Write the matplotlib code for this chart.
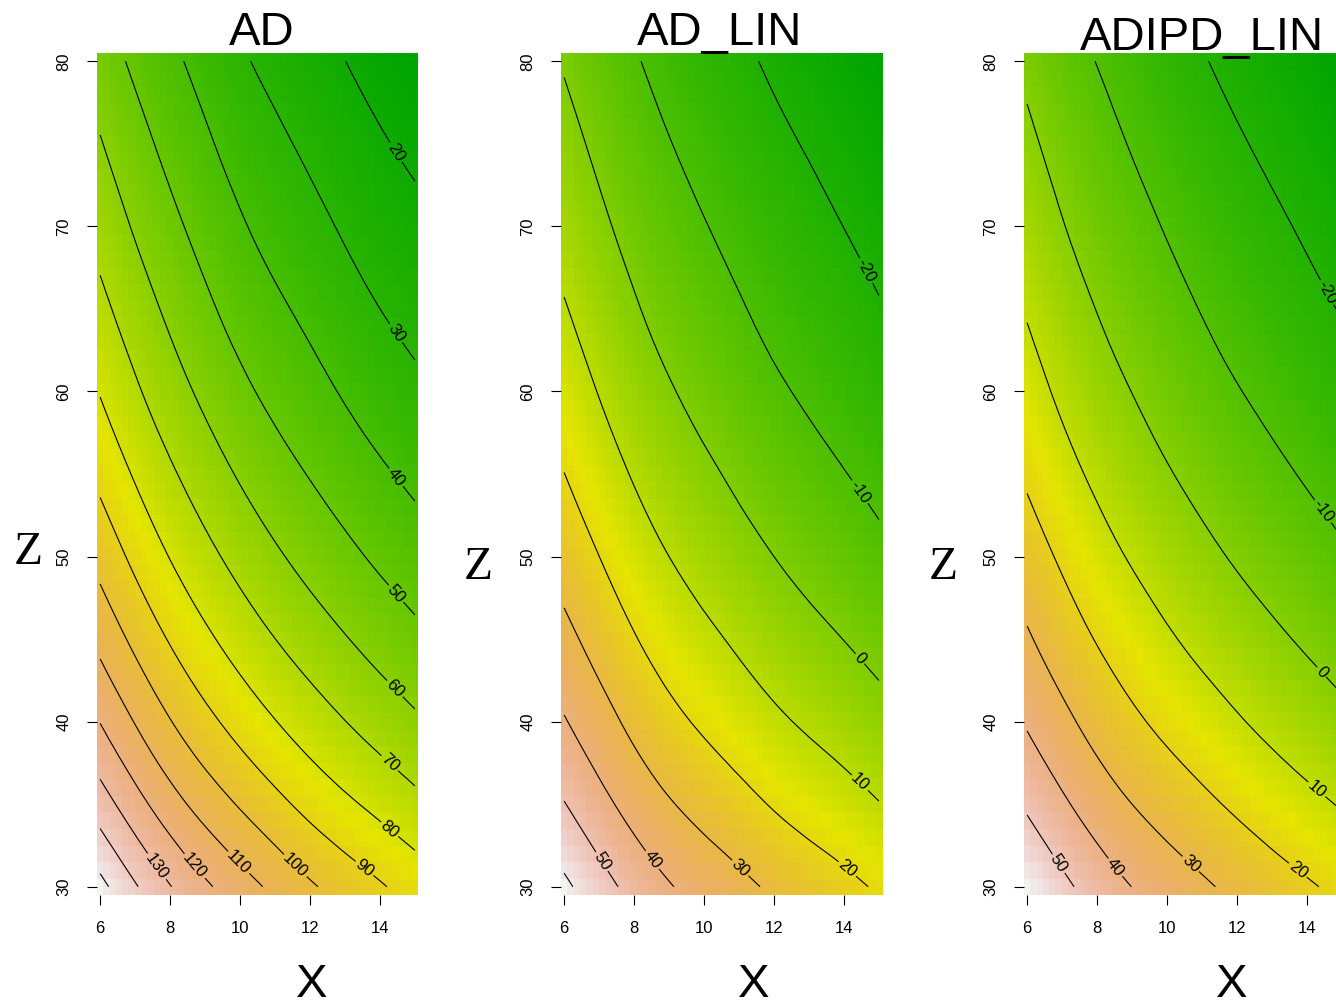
import numpy as np
import matplotlib
matplotlib.use("Agg")
import matplotlib.pyplot as plt
import matplotlib.tri as mtri
from matplotlib.colors import ListedColormap, hsv_to_rgb

W, H = 1336, 1002

# surfaces on a coarse grid (rows: Z, columns: X)
X_GRID = [6, 7.5, 9, 10.5, 12, 13.5, 15]
Z_GRID = [30, 35, 40, 45, 50, 55, 60, 65, 70, 75, 80]

AD = [
    [153.0, 135.5, 121.7, 111.0, 101.3, 93.5, 86.0],
    [134.9, 118.8, 106.0, 95.9, 87.0, 79.6, 72.7],
    [119.7, 104.8, 92.8, 83.2, 75.0, 67.9, 61.5],
    [107.2, 93.3, 82.0, 72.8, 65.1, 58.4, 52.4],
    [96.7, 83.5, 72.8, 64.0, 56.7, 50.3, 44.6],
    [87.5, 75.1, 64.9, 56.4, 49.5, 43.3, 37.9],
    [79.5, 67.7, 57.9, 49.7, 43.2, 37.1, 32.0],
    [72.6, 61.4, 51.9, 43.9, 37.8, 31.8, 27.0],
    [66.4, 55.6, 46.5, 38.7, 32.8, 27.0, 22.4],
    [60.6, 50.3, 41.5, 33.9, 28.2, 22.6, 18.1],
    [55.0, 45.1, 36.6, 29.2, 23.8, 18.3, 14.0],
]

AD_LIN = [
    [62.0, 50.3, 40.7, 34.3, 28.5, 23.8, 19.0],
    [50.4, 39.6, 30.8, 24.8, 19.3, 14.9, 10.3],
    [40.7, 30.7, 22.5, 16.8, 11.6, 7.4, 3.1],
    [32.7, 23.4, 15.8, 10.3, 5.3, 1.2, -2.9],
    [25.9, 17.2, 10.0, 4.7, 0.0, -4.0, -8.0],
    [20.1, 11.8, 5.0, 0.0, -4.6, -8.5, -12.3],
    [15.0, 7.1, 0.7, -4.2, -8.7, -12.4, -16.2],
    [10.6, 3.1, -3.1, -7.8, -12.2, -15.8, -19.5],
    [6.6, -0.6, -6.5, -11.1, -15.3, -18.9, -22.5],
    [2.9, -4.0, -9.7, -14.2, -18.3, -21.7, -25.2],
    [-0.7, -7.3, -12.7, -17.1, -21.1, -24.5, -27.9],
]

ADIPD_LIN = [
    [60.0, 48.9, 39.9, 33.4, 27.7, 22.6, 18.1],
    [48.6, 38.3, 30.0, 23.9, 18.5, 13.7, 9.4],
    [39.0, 29.4, 21.7, 15.9, 10.8, 6.3, 2.1],
    [31.1, 22.1, 15.0, 9.3, 4.5, 0.2, -3.8],
    [24.5, 16.0, 9.2, 3.8, -0.9, -5.0, -8.9],
    [18.7, 10.6, 4.2, -1.0, -5.5, -9.5, -13.3],
    [13.7, 5.9, -0.1, -5.2, -9.6, -13.4, -17.1],
    [9.3, 1.9, -3.9, -8.8, -13.1, -16.8, -20.4],
    [5.4, -1.8, -7.3, -12.1, -16.2, -19.8, -23.4],
    [1.7, -5.1, -10.5, -15.2, -19.2, -22.7, -26.2],
    [-1.8, -8.4, -13.5, -18.1, -22.0, -25.4, -28.9],
]

LEVELS = list(range(-30, 170, 10))
TITLES = ["AD", "AD_LIN", "ADIPD_LIN"]

plt.rcParams.update({"font.family": ["Liberation Sans", "DejaVu Sans"],
                     "contour.negative_linestyle": "solid"})


def terrain_colors(n=256):
    # same ramp as R's terrain.colors()
    k = n // 2
    h = np.r_[np.linspace(4 / 12, 2 / 12, k), np.linspace(2 / 12, 0, n - k + 1)[1:]]
    s = np.r_[np.ones(k), np.linspace(1, 0, n - k + 1)[1:]]
    v = np.r_[np.linspace(0.65, 0.9, k), np.linspace(0.9, 0.95, n - k + 1)[1:]]
    return ListedColormap(hsv_to_rgb(np.column_stack([h, s, v])))


CMAP = terrain_colors()


def smooth_field(z):
    nx, nz = len(X_GRID), len(Z_GRID)
    xg, zg = np.meshgrid(X_GRID, Z_GRID)
    tris = []
    for j in range(nz - 1):
        for i in range(nx - 1):
            a = j * nx + i
            tris += [[a, a + 1, a + nx + 1], [a, a + nx + 1, a + nx]]
    tri = mtri.Triangulation(xg.ravel(), zg.ravel(), tris)
    interp = mtri.CubicTriInterpolator(tri, np.asarray(z, float).ravel(), kind="min_E")
    xf = np.linspace(X_GRID[0], X_GRID[-1], 51)
    zf = np.linspace(Z_GRID[0], Z_GRID[-1], 51)
    XF, ZF = np.meshgrid(np.clip(xf, 6 + 1e-9, 15 - 1e-9), np.clip(zf, 30 + 1e-9, 80 - 1e-9))
    F = np.ma.filled(interp(XF, ZF), np.nan)
    XF, ZF = np.meshgrid(xf, zf)
    return XF, ZF, F


def label_points(ax, cs, min_len=78, back=30):
    pts = []
    for segs in cs.allsegs:
        for seg in segs:
            if len(seg) < 2:
                continue
            d = ax.transData.transform(seg)
            if (d[0, 0] - d[0, 1]) > (d[-1, 0] - d[-1, 1]):
                seg, d = seg[::-1], d[::-1]
            cum = np.r_[0, np.cumsum(np.hypot(*np.diff(d, axis=0).T))]
            if cum[-1] < min_len:
                continue
            i = np.argmin(np.abs((cum[-1] - cum) - back))
            pts.append(tuple(seg[i]))
    return pts


fig = plt.figure(figsize=(W / 100, H / 100), dpi=100)

lefts = [97, 561, 1024]
title_x = [262, 720, 1202]
title_y = [45, 45, 50]
xlab_x = [312, 754, 1232]
zlab = [(28, 553), (478, 568), (943, 568)]
dx = 9 / 50

for k, (z, title) in enumerate(zip([AD, AD_LIN, ADIPD_LIN], TITLES)):
    ax = fig.add_axes([lefts[k] / W, (H - 895) / H, 321 / W, 842 / H])
    XF, ZF, F = smooth_field(z)
    ax.imshow(F, origin="lower", cmap=CMAP, vmin=np.nanmin(F), vmax=np.nanmax(F),
              extent=(6 - dx / 2, 15 + dx / 2, 29.5, 80.5), aspect="auto",
              interpolation="nearest")
    ax.set_xlim(6 - dx / 2, 15 + dx / 2)
    ax.set_ylim(29.5, 80.5)
    cs = ax.contour(XF, ZF, F, levels=LEVELS, colors="k", linewidths=0.8,
                    linestyles="solid")
    ax.clabel(cs, inline=True, fmt="%g", fontsize=12, inline_spacing=2,
              manual=label_points(ax, cs))

    for sp in ax.spines.values():
        sp.set_visible(False)
    ax.set_xticks([6, 8, 10, 12, 14])
    ax.set_yticks([30, 40, 50, 60, 70, 80])
    ax.tick_params(direction="out", length=7.5, width=0.8, labelsize=12)
    ax.tick_params(axis="x", pad=11)
    ax.tick_params(axis="y", pad=11)
    for lbl in ax.get_yticklabels():
        lbl.set_rotation(90)
        lbl.set_va("center")

    fig.text(title_x[k] / W, 1 - title_y[k] / H, title, ha="center", va="baseline",
             fontsize=34)
    fig.text(xlab_x[k] / W, 1 - 997 / H, "X", ha="center", va="baseline", fontsize=34)
    fig.text(zlab[k][0] / W, 1 - zlab[k][1] / H, "Z", ha="center", va="center",
             fontsize=34, family=["Liberation Serif", "DejaVu Serif"])

fig.savefig("out.png", dpi=100)
